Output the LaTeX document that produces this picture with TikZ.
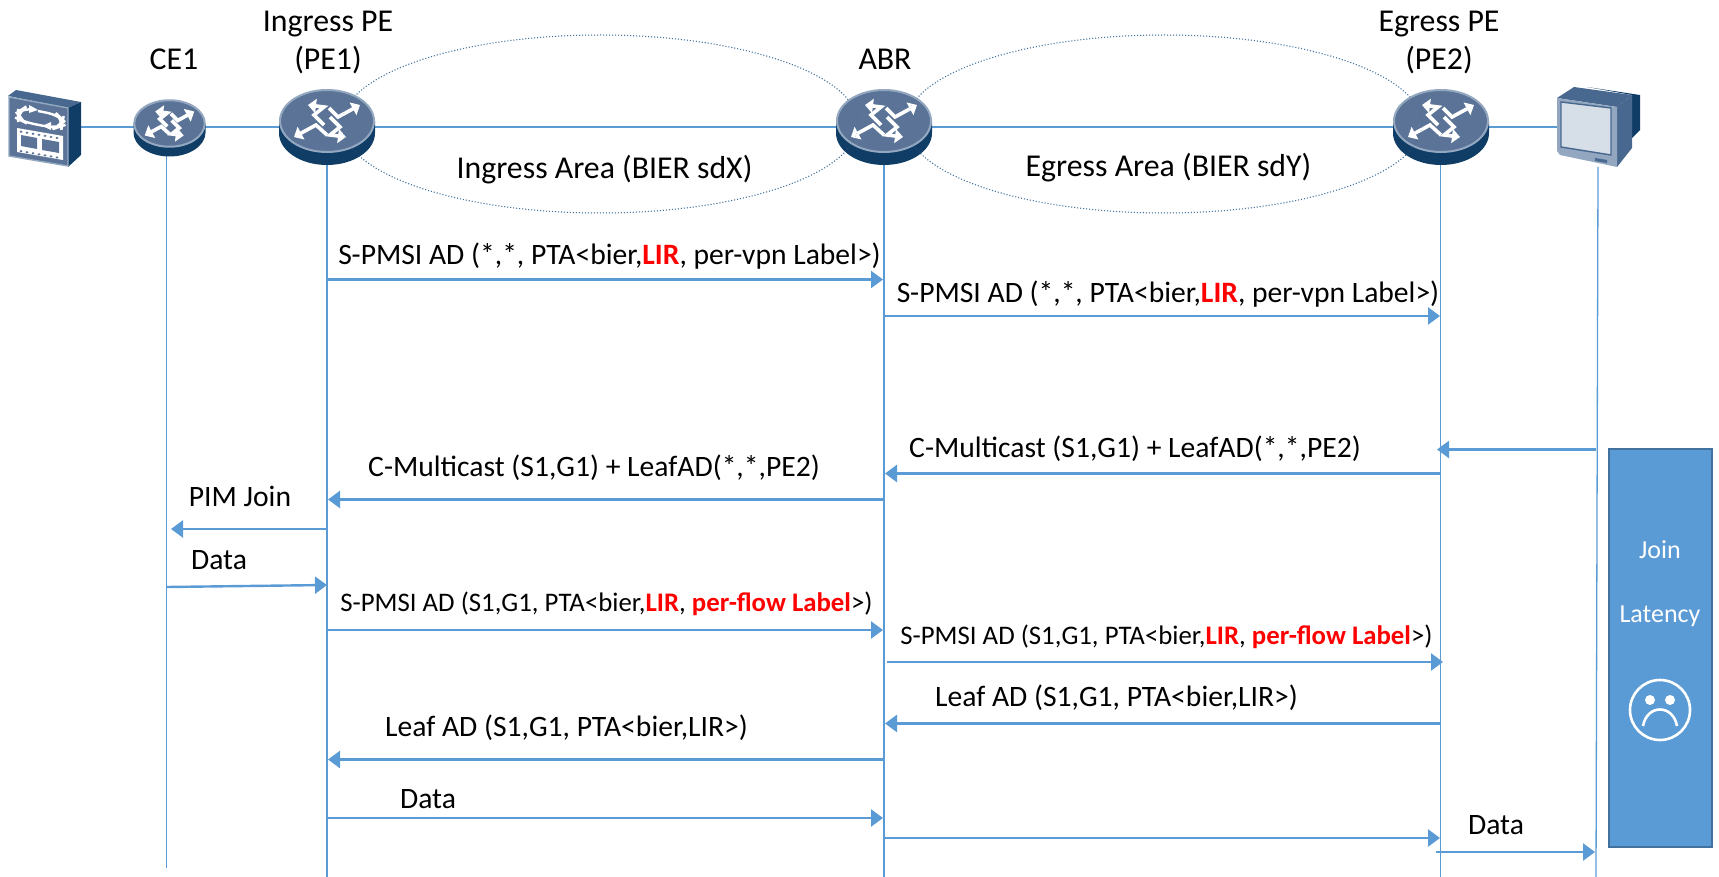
\documentclass[tikz,border=0pt]{standalone}
\usepackage{fontspec}
\setmainfont{Carlito}
\usetikzlibrary{arrows.meta}
\definecolor{line_blue}{HTML}{5B9BD5}
\definecolor{box_edge}{HTML}{41719C}
\definecolor{icon_dark}{HTML}{0F3D66}
\definecolor{icon_mid}{HTML}{5A7396}
\definecolor{icon_light}{HTML}{93A8C0}
\definecolor{icon_side}{HTML}{48688F}
\definecolor{icon_screen}{HTML}{D6DEE8}
\newcommand{\lir}{\textcolor{red}{\textbf{LIR}}}
\newcommand{\perflow}{\textcolor{red}{\textbf{per-flow Label}}}

\begin{document}
\begin{tikzpicture}[x=0.5pt,y=-0.5pt,
	life_line/.style={line_blue,line width=0.65pt},
	msg_arrow/.style={line_blue,line width=1.2pt,-{Triangle[length=6pt,width=8.5pt]}},
	area_oval/.style={box_edge,densely dotted,line width=0.5pt},
	head_text/.style={anchor=base,inner sep=0pt,yshift=-0.7pt,font=\fontsize{15.9}{18}\selectfont},
	msg_text/.style={anchor=base,inner sep=0pt,yshift=-0.7pt,font=\fontsize{14.8}{17}\selectfont},
	small_text/.style={anchor=base,inner sep=0pt,yshift=-0.7pt,font=\fontsize{13.4}{16}\selectfont},
	box_text/.style={anchor=base,inner sep=0pt,text=white,font=\fontsize{13}{15}\selectfont},
	glyph_arrow/.style={white,line width=1.8pt,-{Triangle[length=4pt,width=7pt]}},
	router_icon/.pic={
		\fill[icon_dark] (-48,0) -- (-48,12) arc[start angle=180,end angle=0,x radius=48,y radius=32] -- (48,0) -- cycle;
		\draw[fill=icon_mid,draw=icon_light,line width=1pt] (0,0) circle [x radius=47,y radius=31];
		\draw[glyph_arrow] (2,-13) -- (11,-4) -- (33,-16);
		\draw[glyph_arrow] (-3,4) -- (-13,-6) -- (-3,-14) -- (-19,-16);
		\draw[glyph_arrow] (0,14) -- (-11,4) -- (-33,16);
		\draw[glyph_arrow] (3,-4) -- (13,6) -- (3,14) -- (19,16);
	}]
\useasboundingbox (0,0) rectangle (1719,877);

\coordinate (src_port) at (81,127);
\coordinate (rcv_port) at (1557,127);
\draw[life_line] (src_port) -- (rcv_port);

\coordinate (ce1_top) at (166.5,150);
\coordinate (ce1_end) at (166.5,868);
\coordinate (pe1_top) at (327,160);
\coordinate (pe1_end) at (327,877);
\coordinate (abr_top) at (884,160);
\coordinate (abr_end) at (884,877);
\coordinate (pe2_top) at (1440.5,160);
\coordinate (pe2_end) at (1440.5,877);
\coordinate (rcv_top) at (1598,167);
\coordinate (rcv_end) at (1596,877);
\draw[life_line] (ce1_top) -- (ce1_end);
\draw[life_line] (pe1_top) -- (pe1_end);
\draw[life_line] (abr_top) -- (abr_end);
\draw[life_line] (pe2_top) -- (pe2_end);
\draw[life_line] (rcv_top) -- (rcv_end);

\draw[area_oval] (600,124) ellipse [x radius=258,y radius=89];
\draw[area_oval] (1164,124) ellipse [x radius=258,y radius=89];

\pic[scale=0.75] at (169.5,123.5) {router_icon};
\pic at (327,121) {router_icon};
\pic at (884,121) {router_icon};
\pic at (1441,121) {router_icon};

\draw[area_oval,opacity=0.3] (600,124) ellipse [x radius=258,y radius=89];
\draw[area_oval,opacity=0.3] (1164,124) ellipse [x radius=258,y radius=89];

\fill[icon_side] (8,96) -- (16,90) -- (81,102) -- (68,108) -- cycle;
\fill[icon_dark] (68,108) -- (81,102) -- (81,155) -- (68,167) -- cycle;
\draw[fill=icon_mid,draw=icon_light,line width=0.7pt] (9,97) -- (68,108) -- (68,166) -- (9,156) -- cycle;
\draw[white,line width=1.2pt,rounded corners=5pt] (31,109) -- (24,108) -- (18,112) -- (18,119) -- (24,122) -- (44,126);
\draw[white,line width=1.2pt,rounded corners=5pt] (38,111) -- (58,115) -- (63,120) -- (62,126) -- (56,128) -- (50,127);
\fill[white] (38,110) -- (29,105) -- (29,113) -- cycle;
\fill[white] (42,126) -- (51,122) -- (51,130) -- cycle;
\fill[white] (17,128) -- (63,136) -- (63,160) -- (17,152) -- cycle;
\fill[icon_mid] (21,135) -- (37,138) -- (37,149) -- (21,146) -- cycle;
\fill[icon_mid] (42,139) -- (59,142) -- (59,153) -- (42,150) -- cycle;
\foreach \k in {21,27,33,39,45,51,57}
	\fill[icon_mid] (\k,{131+(\k-17)*0.174}) circle [x radius=1.5,y radius=1.2] (\k,{150.5+(\k-17)*0.174}) circle [x radius=1.5,y radius=1.2];

\fill[icon_dark] (1587,87) -- (1640,95) -- (1640,130) -- (1632,138) -- (1632,95) -- cycle;
\fill[icon_side] (1557,98) -- (1574,87) -- (1632,95) -- (1617,107) -- cycle;
\fill[icon_side] (1617,107) -- (1632,95) -- (1632,148) -- (1617,167) -- cycle;
\fill[icon_light] (1557,98) -- (1617,107) -- (1617,167) -- (1560,155) -- (1557,151) -- cycle;
\draw[fill=icon_screen,draw=icon_side,line width=0.7pt] (1561,102) -- (1611,108) -- (1611,155) -- (1561,147) -- cycle;
\fill[icon_side] (1595,158) -- (1607,160) -- (1607,163) -- (1595,161) -- cycle;

\node[head_text] (ce1_name) at (174,68) {CE1};
\node[head_text] (pe1_name) at (328,30) {Ingress PE};
\node[head_text] (pe1_sub) at (328,68) {(PE1)};
\node[head_text] (abr_name) at (885,68) {ABR};
\node[head_text] (pe2_name) at (1439,30) {Egress PE};
\node[head_text] (pe2_sub) at (1439,68) {(PE2)};
\node[head_text] (area_x) at (604.5,177) {Ingress Area (BIER sdX)};
\node[head_text] (area_y) at (1168.5,175) {Egress Area (BIER sdY)};

\node[msg_text] (t1) at (609.5,263) {S-PMSI AD (*,*, PTA<bier,\lir, per-vpn Label>)};
\node[msg_text] (t2) at (1168,301) {S-PMSI AD (*,*, PTA<bier,\lir, per-vpn Label>)};
\node[msg_text] (t3) at (1135,456) {C-Multicast (S1,G1) + LeafAD(*,*,PE2)};
\node[msg_text] (t4) at (594,475) {C-Multicast (S1,G1) + LeafAD(*,*,PE2)};
\node[msg_text] (t5) at (240,505) {PIM Join};
\node[msg_text] (t6) at (219,568) {Data};
\node[small_text] (t7) at (606.5,610) {S-PMSI AD (S1,G1, PTA<bier,\lir, \perflow>)};
\node[small_text] (t8) at (1166.5,643) {S-PMSI AD (S1,G1, PTA<bier,\lir, \perflow>)};
\node[msg_text] (t9) at (1116.5,705) {Leaf AD (S1,G1, PTA<bier,LIR>)};
\node[msg_text] (t10) at (566.5,735) {Leaf AD (S1,G1, PTA<bier,LIR>)};
\node[msg_text] (t11) at (428,807) {Data};
\node[msg_text] (t12) at (1496,833) {Data};

\coordinate (m1a) at (327,279.5);
\coordinate (m1b) at (883,279.5);
\coordinate (m2a) at (884,316);
\coordinate (m2b) at (1440,316);
\coordinate (m3a) at (1596,449.5);
\coordinate (m3b) at (1437,449.5);
\coordinate (m4a) at (1441,473.5);
\coordinate (m4b) at (885,473.5);
\coordinate (m5a) at (884,499.5);
\coordinate (m5b) at (328,499.5);
\coordinate (m6a) at (327,529);
\coordinate (m6b) at (171,529);
\coordinate (m7a) at (166.5,587);
\coordinate (m7b) at (327,585);
\coordinate (m8a) at (327,630);
\coordinate (m8b) at (883,630);
\coordinate (m9a) at (887,662);
\coordinate (m9b) at (1443,662);
\coordinate (m10a) at (1441,723.5);
\coordinate (m10b) at (885,723.5);
\coordinate (m11a) at (884,759.5);
\coordinate (m11b) at (328,759.5);
\coordinate (m12a) at (327,818);
\coordinate (m12b) at (883,818);
\coordinate (m13a) at (884,838);
\coordinate (m13b) at (1440,838);
\coordinate (m14a) at (1436,852);
\coordinate (m14b) at (1595,852);
\draw[msg_arrow] (m1a) -- (m1b);
\draw[msg_arrow] (m2a) -- (m2b);
\draw[msg_arrow] (m3a) -- (m3b);
\draw[msg_arrow] (m4a) -- (m4b);
\draw[msg_arrow] (m5a) -- (m5b);
\draw[msg_arrow] (m6a) -- (m6b);
\draw[msg_arrow] (m7a) -- (m7b);
\draw[msg_arrow] (m8a) -- (m8b);
\draw[msg_arrow] (m9a) -- (m9b);
\draw[msg_arrow] (m10a) -- (m10b);
\draw[msg_arrow] (m11a) -- (m11b);
\draw[msg_arrow] (m12a) -- (m12b);
\draw[msg_arrow] (m13a) -- (m13b);
\draw[msg_arrow] (m14a) -- (m14b);

\draw[fill=line_blue,draw=box_edge,line width=1.2pt] (1609,449) rectangle (1712,847);
\node[box_text] (join) at (1660,558) {Join};
\node[box_text] (latency) at (1660,622) {Latency};
\draw[white,line width=1.3pt] (1660,710) circle [x radius=30,y radius=30];
\fill[white] (1650,700) circle [x radius=5,y radius=5];
\fill[white] (1670,700) circle [x radius=5,y radius=5];
\draw[white,line width=1.3pt] (1643,726) .. controls (1647,704) and (1673,704) .. (1677,726);
\end{tikzpicture}
\end{document}
